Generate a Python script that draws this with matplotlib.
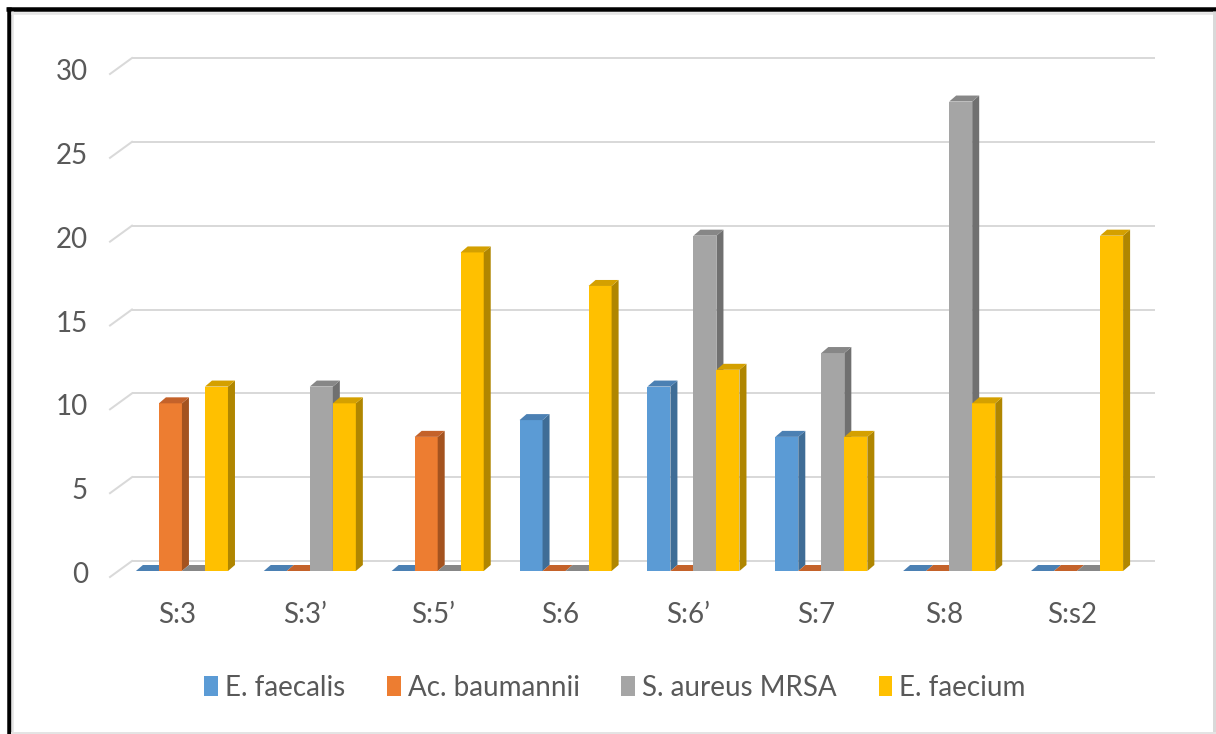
import matplotlib
matplotlib.use("Agg")
import matplotlib.pyplot as plt
from matplotlib.patches import Polygon, Patch
from matplotlib.lines import Line2D
from matplotlib.transforms import offset_copy, IdentityTransform

plt.rcParams['font.family'] = ['Lato', 'DejaVu Sans']

categories = ["S:3", "S:3\u2019", "S:5\u2019", "S:6", "S:6\u2019", "S:7", "S:8", "S:s2"]
series_names = ["E. faecalis", "Ac. baumannii", "S. aureus MRSA", "E. faecium"]
e_faecalis = [0, 0, 0, 9, 11, 8, 0, 0]
ac_baumannii = [10, 0, 8, 0, 0, 0, 0, 0]
s_aureus_mrsa = [0, 11, 0, 0, 20, 13, 28, 0]
e_faecium = [11, 10, 19, 17, 12, 8, 10, 20]
y_ticks = [0, 5, 10, 15, 20, 25, 30]

series = [e_faecalis, ac_baumannii, s_aureus_mrsa, e_faecium]
front_colors = ['#5B9BD5', '#ED7D31', '#A5A5A5', '#FFC000']
side_colors = ['#3F6D96', '#A4531F', '#707070', '#B08600']
top_colors = ['#4B80B3', '#C4622A', '#878787', '#D4A000']

W, H = 1216, 734
fig = plt.figure(figsize=(W / 100, H / 100), dpi=100)
fig.patch.set_facecolor('white')

# frame: heavy line top/left, light line right/bottom
def fline(xs, ys, color, lw_px):
    fig.add_artist(Line2D([x / W for x in xs], [y / H for y in ys],
                          transform=fig.transFigure, color=color,
                          lw=lw_px * 72 / 100, solid_capstyle='butt'))

fline([6, W], [H - 9, H - 9], 'black', 4.5)
fline([8.5, 8.5], [0, H - 6.5], 'black', 4.5)
fline([11, W], [H - 12.5, H - 12.5], '#E4E4E4', 2.5)
fline([12, 12], [0, H - 11], '#E4E4E4', 2.5)
fline([W - 2, W - 2], [0, H - 11], '#D9D9D9', 3)
fline([11, W], [1, 1], '#E4E4E4', 2)

# axes = front plane of the columns
ax_left, ax_right = 118, 1141
ax_top, ax_bottom = 68, 571
ax = fig.add_axes([ax_left / W, (H - ax_bottom) / H,
                   (ax_right - ax_left) / W, (ax_bottom - ax_top) / H])
ax.set_xlim(-0.5, len(categories) - 0.5)
ax.set_ylim(0, 30)
ax.axis('off')

# depth offsets in pixels
bar_dx, bar_dy = 7, 6        # column depth
wall_dx, wall_dy = 14, 10    # front plane -> back wall
floor_dx, floor_dy = -8, -6  # front plane -> front edge of floor

grid_color = '#D9D9D9'
grid_lw = 2 * 72 / 100
wall_tr = offset_copy(ax.transData, fig=fig, x=wall_dx, y=wall_dy, units='dots')
x_lo, x_hi = -0.5, len(categories) - 0.5
for v in y_ticks:
    ax.plot([x_lo, x_hi], [v, v], color=grid_color, lw=grid_lw,
            transform=wall_tr, clip_on=False, zorder=1, solid_capstyle='butt')
    px, py = ax.transData.transform((x_lo, v))
    ax.add_line(Line2D([px + floor_dx, px + wall_dx], [py + floor_dy, py + wall_dy],
                       transform=IdentityTransform(), color=grid_color, lw=grid_lw,
                       clip_on=False, zorder=1))

# y tick labels
ylab_tr = offset_copy(ax.get_yaxis_transform(), fig=fig, x=-30, y=-4, units='dots')
for v in y_ticks:
    ax.text(0, v, str(v), transform=ylab_tr, ha='right', va='center',
            fontsize=20, color='#595959')

# category labels
xlab_tr = offset_copy(ax.get_xaxis_transform(), fig=fig, x=-5, y=-44, units='dots')
for i, c in enumerate(categories):
    ax.text(i, 0, c, transform=xlab_tr, ha='center', va='center',
            fontsize=20, color='#595959')

# 3-D columns
bar_w = 0.18
n = len(series)
for s, vals in enumerate(series):
    xs = [i + (s - (n - 1) / 2) * bar_w for i in range(len(categories))]
    bars = ax.bar(xs, vals, width=bar_w, color=front_colors[s], linewidth=0)
    for i, rect in enumerate(bars):
        z = 3 + 0.01 * (i * n + s)
        rect.set_zorder(z)
        x0, x1 = rect.get_x(), rect.get_x() + rect.get_width()
        h = rect.get_height()
        (ax0, ay0), (ax1, ay1) = ax.transData.transform([(x0, 0), (x1, h)])
        side = [(ax1, ay0), (ax1 + bar_dx, ay0 + bar_dy),
                (ax1 + bar_dx, ay1 + bar_dy), (ax1, ay1)]
        top = [(ax0, ay1), (ax1, ay1), (ax1 + bar_dx, ay1 + bar_dy),
               (ax0 + bar_dx, ay1 + bar_dy)]
        ax.add_patch(Polygon(side, closed=True, transform=IdentityTransform(),
                             facecolor=side_colors[s], edgecolor='none',
                             zorder=z, clip_on=False))
        ax.add_patch(Polygon(top, closed=True, transform=IdentityTransform(),
                             facecolor=top_colors[s], edgecolor='none',
                             zorder=z, clip_on=False))

# legend
handles = [Patch(facecolor=c, edgecolor='none') for c in front_colors]
fig.legend(handles, series_names, loc='center', bbox_to_anchor=(615 / W, 46 / H),
           ncol=4, frameon=False, fontsize=20, labelcolor='#595959',
           handlelength=0.5, handleheight=0.75, handletextpad=0.25,
           columnspacing=1.5)

fig.savefig('out.png', dpi=100, facecolor='white')
